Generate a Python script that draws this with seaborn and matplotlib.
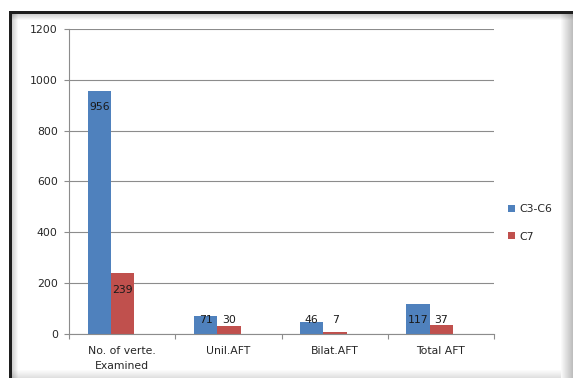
import matplotlib
matplotlib.use("Agg")
import matplotlib.pyplot as plt
from matplotlib.patches import Patch, Rectangle
import seaborn as sns
import pandas as pd

categories = ["No. of verte.\nExamined", "Unil.AFT", "Bilat.AFT", "Total AFT"]
series_names = ["C3-C6", "C7"]
c3_c6 = [956, 71, 46, 117]
c7 = [239, 30, 7, 37]
y_ticks = [0, 200, 400, 600, 800, 1000, 1200]

colors = ["#4F81BD", "#C0504D"]

FS = 7.8
sns.set_theme(style="white")
plt.rcParams["font.family"] = ["DejaVu Sans"]
plt.rcParams["font.size"] = FS

df = pd.DataFrame({
    "cat": categories * 2,
    "val": c3_c6 + c7,
    "series": [series_names[0]] * 4 + [series_names[1]] * 4,
})

W, H = 573, 378
fig = plt.figure(figsize=(W / 100, H / 100), dpi=100)
fig.patch.set_facecolor("white")
ax = fig.add_axes([69 / W, 1 - 334 / H, (494 - 69) / W, (334 - 29) / H])

sns.barplot(data=df, x="cat", y="val", hue="series", order=categories,
            hue_order=series_names, palette=colors, width=0.44,
            saturation=1, dodge=True, ax=ax, legend=False, err_kws={"linewidth": 0})

shift = -0.105
for p in ax.patches:
    p.set_x(p.get_x() + shift)
    p.set_linewidth(0)

# value labels
label_off = 64
label_min = 55
for bars, vals in zip(ax.containers, [c3_c6, c7]):
    for p, v in zip(bars, vals):
        xc = p.get_x() + p.get_width() / 2
        yl = max(v - label_off, label_min)
        ax.text(xc, yl, str(v), ha="center", va="center", fontsize=FS, color="#1a1a1a")

ax.set_ylim(0, 1200)
ax.set_xlim(-0.5, 3.5)
ax.set_yticks(y_ticks)
ax.set_yticklabels([str(t) for t in y_ticks])
ax.set_xlabel("")
ax.set_ylabel("")
ax.yaxis.grid(True, color="#8c8c8c", linewidth=0.8)
ax.set_axisbelow(True)
for s in ["top", "right"]:
    ax.spines[s].set_visible(False)
for s in ["left", "bottom"]:
    ax.spines[s].set_color("#8c8c8c")
    ax.spines[s].set_linewidth(0.8)

ax.tick_params(axis="y", which="major", length=3.6, width=0.8, color="#8c8c8c",
               pad=4.5, labelsize=FS, labelcolor="#262626", left=True)
ax.tick_params(axis="x", which="major", length=0, pad=9, labelsize=FS,
               labelcolor="#262626")
ax.set_xticks([-0.5, 0.5, 1.5, 2.5, 3.5], minor=True)
ax.tick_params(axis="x", which="minor", length=3.6, width=0.8, color="#8c8c8c",
               bottom=True)
for lbl in ax.get_xticklabels():
    lbl.set_linespacing(1.6)

handles = [Patch(facecolor=c, edgecolor="none") for c in colors]
fig.legend(handles, series_names, loc="center left",
           bbox_to_anchor=(508 / W, 1 - 223 / H), frameon=False,
           fontsize=FS, handlelength=0.65, handleheight=0.65, handletextpad=0.4,
           labelspacing=1.6, borderaxespad=0, borderpad=0,
           labelcolor="#262626")

# chart frame with shadow
tf = fig.transFigure
def px_rect(x0, y0, x1, y1, color, alpha=1.0):
    fig.add_artist(Rectangle((x0 / W, 1 - y1 / H), (x1 - x0) / W, (y1 - y0) / H,
                             transform=tf, facecolor=color, edgecolor="none",
                             alpha=alpha, zorder=0))

# outer shadows right and bottom
for i in range(12):
    a = 0.04 + 0.035 * i
    px_rect(561 + i, 12, 562 + i, 378, "#000000", a * 0.6)
for i in range(8):
    a = 0.03 + 0.03 * i
    px_rect(12, 370 + i, 561, 371 + i, "#000000", a * 0.5)
# inner shadow top and left
for i in range(6):
    a = 0.35 - 0.06 * i
    px_rect(12, 14 + i, 573, 15 + i, "#000000", a * 0.5)
    px_rect(12 + i, 14, 13 + i, 378, "#000000", a * 0.5)
# dark lines
px_rect(9, 11, 573, 14, "#1e1e1e")
px_rect(9, 11, 12, 378, "#1e1e1e")

fig.savefig("out.png", dpi=100, facecolor="white")
